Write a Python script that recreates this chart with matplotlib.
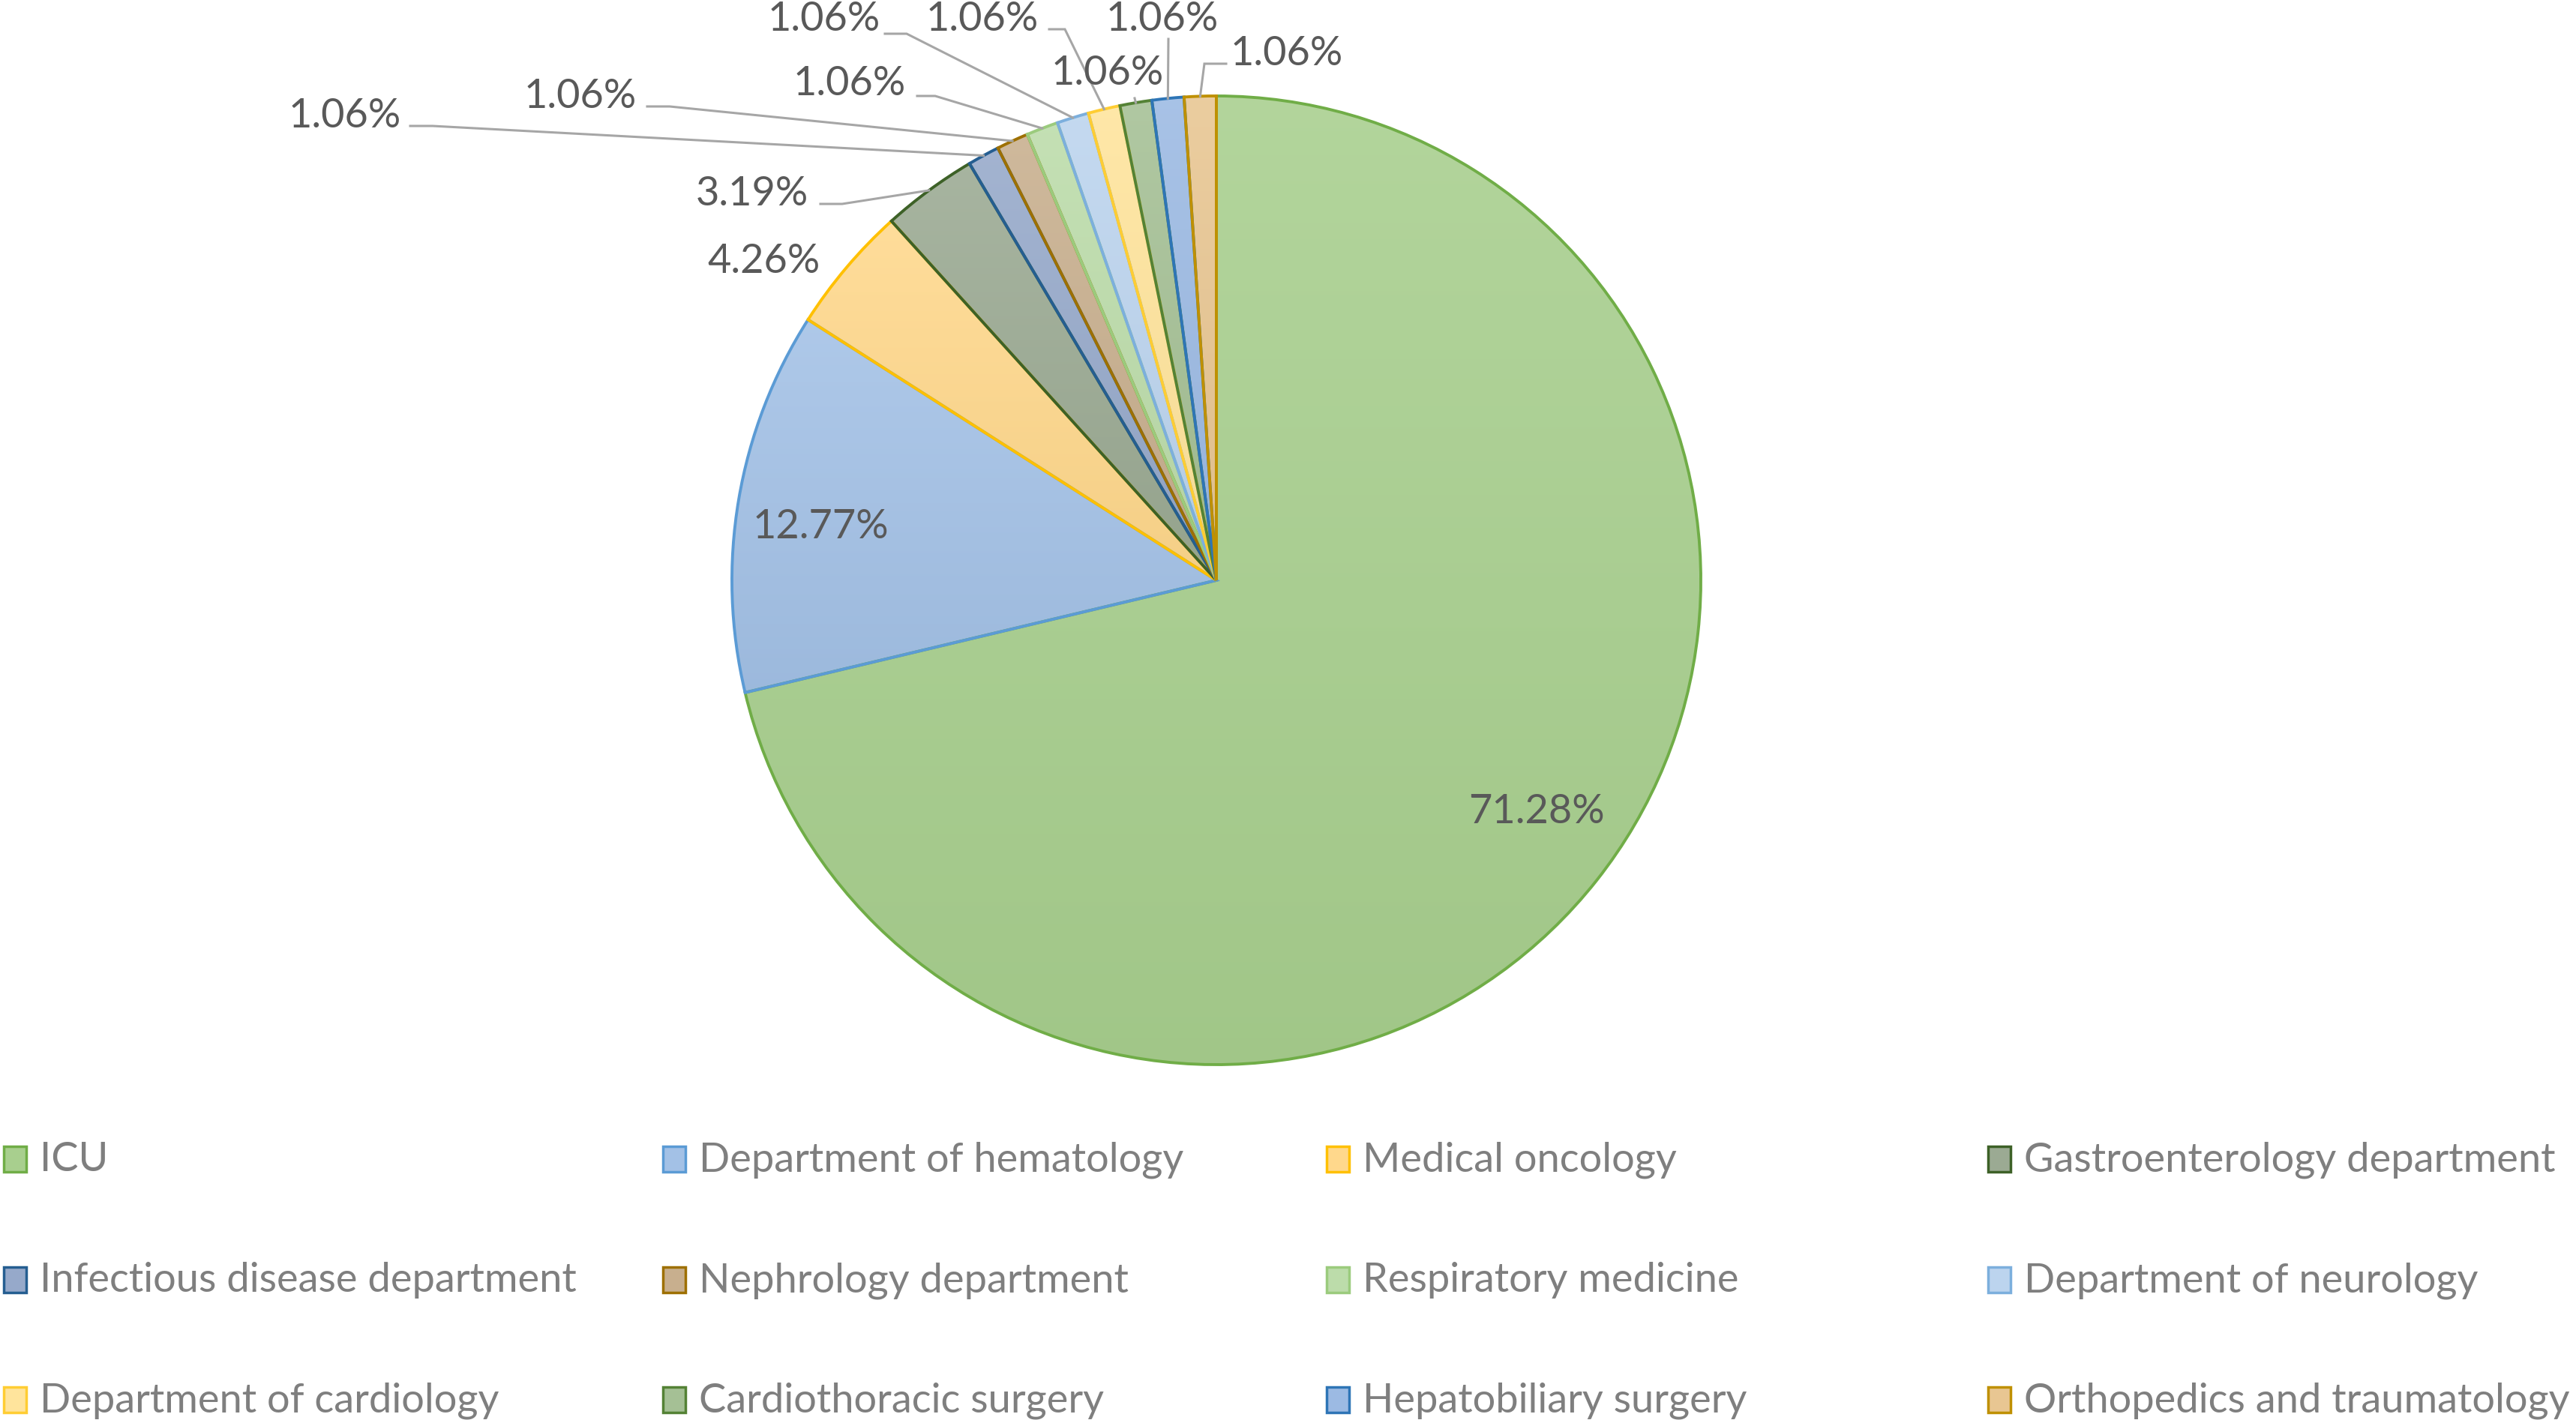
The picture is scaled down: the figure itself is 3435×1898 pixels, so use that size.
import numpy as np
import matplotlib
matplotlib.use("Agg")
import matplotlib.pyplot as plt
from matplotlib.colors import to_rgb
from matplotlib.patches import Rectangle

plt.rcParams['font.family'] = ['Lato', 'DejaVu Sans']

departments = ['ICU', 'Department of hematology', 'Medical oncology',
               'Gastroenterology department', 'Infectious disease department',
               'Nephrology department', 'Respiratory medicine',
               'Department of neurology', 'Department of cardiology',
               'Cardiothoracic surgery', 'Hepatobiliary surgery',
               'Orthopedics and traumatology']
counts = [67, 12, 4, 3, 1, 1, 1, 1, 1, 1, 1, 1]

edge_colors = ['#70AD47', '#5B9BD5', '#FFC000', '#3D6127', '#255E91', '#9E7000',
               '#9BCB7D', '#7CAFDD', '#FFCD33', '#548235', '#2E75B6', '#BF9000']
fill_colors = ['#A8CF8E', '#A3C1E6', '#FFD88C', '#9BAA93', '#96A9CA', '#C8AF8E',
               '#BCDCAA', '#BCD4EE', '#FFE49C', '#A5C095', '#9CBAE3', '#E8C692']

W, H = 3435, 1899
fig = plt.figure(figsize=(W / 100, H / 100), dpi=100)
ax = fig.add_axes([0, 0, 1, 1])

cx, cy, r = 1622, H - 775, 646
wedges, _ = ax.pie(counts, colors=fill_colors, startangle=90, counterclock=False,
                   radius=r, center=(cx, cy),
                   wedgeprops=dict(linewidth=2.8, joinstyle='miter'))


def mix(c, other, t):
    a = np.array(to_rgb(c))
    b = np.array(to_rgb(other))
    return a * (1 - t) + b * t


# vertical gradient fill inside each wedge, lighter on top
for w, fc, ec in zip(wedges, fill_colors, edge_colors):
    w.set_edgecolor(ec)
    ext = w.get_path().get_extents()
    top = mix(fc, 'white', 0.12)
    bot = mix(fc, 'black', 0.04)
    grad = np.linspace(0, 1, 64)[:, None, None]
    img = bot[None, None, :] * (1 - grad) + top[None, None, :] * grad
    im = ax.imshow(img, extent=(ext.x0, ext.x1, ext.y0, ext.y1), origin='lower',
                   aspect='auto', interpolation='bicubic', zorder=0.5)
    im.set_clip_path(w)
    w.set_facecolor('none')
    w.set_zorder(2)

total = sum(counts)
pct_text = ['{:.2f}%'.format(c / total * 100) for c in counts]

# label layout (pixel coords, y down) and leader elbows
label_pos = [(2049, 1083), (1094, 703), (1019, 348), (1003, 258), (460, 154),
             (774, 128), (1133, 111), (1099, 25), (1310, 25), (1477, 97),
             (1550, 25), (1716, 71)]
leaders = {3: [(1094, 273), (1123, 273)],
           4: [(547, 169), (577, 169)],
           5: [(863, 143), (893, 143)],
           6: [(1223, 129), (1247, 129)],
           7: [(1180, 46), (1209, 46)],
           8: [(1399, 40), (1420, 40)],
           9: [(1513, 132)],
           10: [(1558, 53)],
           11: [(1635, 86), (1606, 86)]}

for i, (w, txt) in enumerate(zip(wedges, pct_text)):
    x, y = label_pos[i]
    ax.text(x, H - y, txt, ha='center', va='center', fontsize=39, color='#595959',
            zorder=5)
    if i in leaders:
        mid = np.deg2rad((w.theta1 + w.theta2) / 2)
        ax_, ay_ = cx + r * np.cos(mid), cy + r * np.sin(mid)
        xs = [p[0] for p in leaders[i]] + [ax_]
        ys = [H - p[1] for p in leaders[i]] + [ay_]
        ax.plot(xs, ys, color='#A6A6A6', lw=2.2, solid_joinstyle='miter', zorder=4)

# legend: 4 equal columns, 3 rows
col_x = [5, 884, 1769, 2651]
row_y = [1547, 1708, 1868]
for i, name in enumerate(departments):
    x0 = col_x[i % 4]
    y0 = H - row_y[i // 4]
    ax.add_patch(Rectangle((x0, y0 - 17), 30, 34, facecolor=fill_colors[i],
                           edgecolor=edge_colors[i], lw=2.5))
    ax.text(x0 + 48, y0, name, ha='left', va='center', fontsize=39, color='#7F7F7F')

ax.set_xlim(0, W)
ax.set_ylim(0, H)
ax.set_aspect('auto')
ax.set_axis_off()

fig.savefig('out.png', dpi=100, facecolor='white')
